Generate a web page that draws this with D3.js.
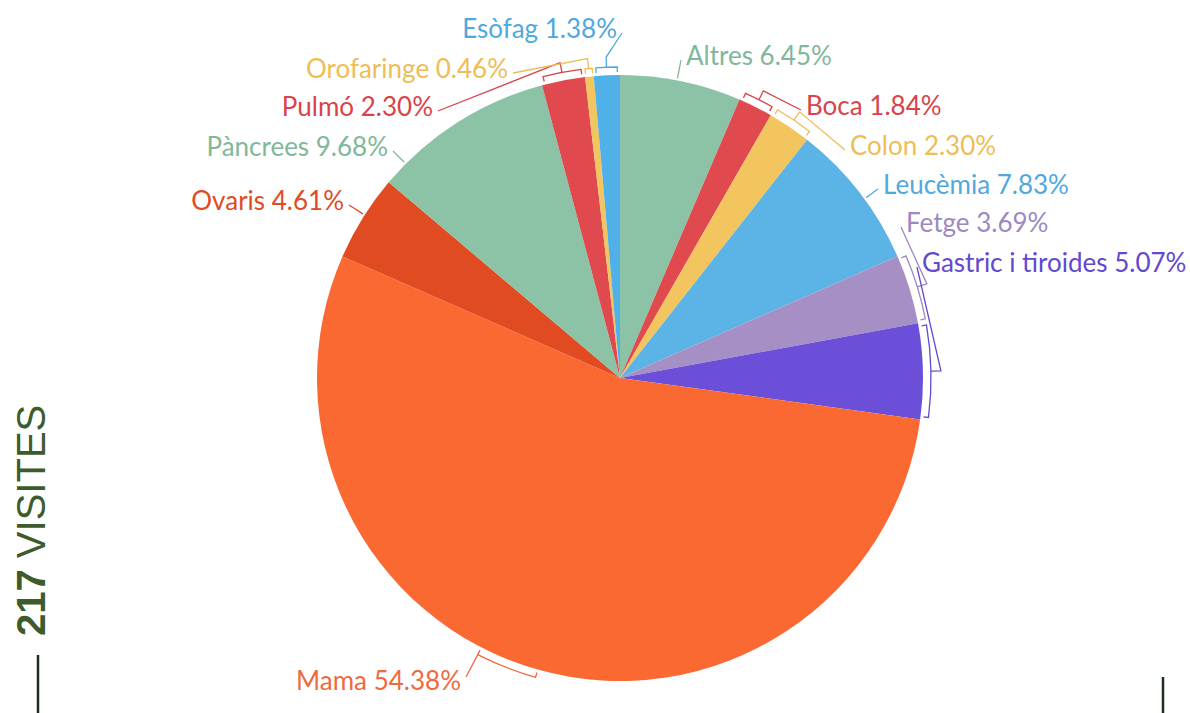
<!DOCTYPE html>
<html><head><meta charset="utf-8">
<script src="https://cdn.jsdelivr.net/npm/d3@7"></script>
<style>body{margin:0;background:#fff}svg{display:block}</style>
</head><body>
<svg id="c" width="1190" height="713"></svg>
<script>
const categories = ["Altres","Boca","Colon","Leucèmia","Fetge","Gastric i tiroides","Mama","Ovaris","Pàncrees","Pulmó","Orofaringe","Esòfag"];
const values = [6.45,1.84,2.30,7.83,3.69,5.07,54.38,4.61,9.68,2.30,0.46,1.38];
const colors = ["#8cc2a5","#e04a4e","#f2c55f","#5cb4e6","#a68fc5","#6b4fd9","#fb6932","#e04b22","#8cc2a5","#e04a4e","#f2c55f","#4fb1e7"];
const textColors = ["#80b899","#d9434a","#eebd55","#4fa9dd","#9d89bf","#6348d0","#ef6a3c","#e04b22","#80b899","#d9434a","#eebd55","#4fa9dd"];
// label layout (layout only): text side, position, bracket flag
const labelLayout = [
  {side:"start", x:686, y:55,  bracket:false},
  {side:"start", x:806, y:105, bracket:true},
  {side:"start", x:850, y:145, bracket:true},
  {side:"start", x:883, y:184, bracket:false},
  {side:"start", x:906, y:222, bracket:true},
  {side:"start", x:922, y:262, bracket:true},
  {side:"end",   x:461, y:680, bracket:true},
  {side:"end",   x:344, y:200, bracket:false},
  {side:"end",   x:388, y:146, bracket:false},
  {side:"end",   x:433, y:106, bracket:true},
  {side:"end",   x:508, y:68,  bracket:true},
  {side:"end",   x:617, y:28,  bracket:true}
];

const svg = d3.select("#c");
const cx = 620, cy = 378, R = 303;
const pie = d3.pie().sort(null).value(d => d)(values);
const arc = d3.arc().innerRadius(0).outerRadius(R);
const g = svg.append("g").attr("transform", `translate(${cx},${cy})`);
g.selectAll("path.slice").data(pie).join("path")
  .attr("class","slice").attr("d", arc).attr("fill",(d,i)=>colors[i]);

const pt = (a, r) => [Math.sin(a)*r, -Math.cos(a)*r];
const lab = svg.append("g");
pie.forEach((d,i) => {
  const L = labelLayout[i];
  const col = textColors[i];
  const tx = L.x - cx + (L.side === "start" ? -5 : 5), ty = L.y - cy + 5;
  const span = d.endAngle - d.startAngle;
  let pts;
  if (L.bracket) {
    let a0 = d.startAngle, a1 = d.endAngle;
    const big = span > 0.35;
    if (big) { const m = (a0+a1)/2; a0 = m; a1 = m + 0.2; }
    else { a0 += Math.min(0.01, span*0.1); a1 -= Math.min(0.01, span*0.1); }
    const rb = R + 8, rt = R + 3;
    const p0 = pt(a0, rt), p1 = pt(a0, rb), p3 = pt(a1, rt);
    const bracket = d3.path();
    bracket.moveTo(p0[0],p0[1]); bracket.lineTo(p1[0],p1[1]);
    bracket.arc(0,0,rb,a0-Math.PI/2,a1-Math.PI/2,false);
    bracket.lineTo(p3[0],p3[1]);
    g.append("path").attr("d", bracket.toString()).attr("fill","none")
      .attr("stroke", col).attr("stroke-width",1.3);
    if (big) {
      pts = [pt(a1, rb), [tx, ty - 8]];
    } else {
      const am = (a0+a1)/2;
      pts = [pt(am, rb), pt(am, rb + 10), [tx, ty]];
    }
  } else {
    let la = Math.atan2(tx, -ty);
    if (la < 0) la += 2*Math.PI;
    const am = Math.max(d.startAngle + 0.03, Math.min(d.endAngle - 0.03, la));
    pts = [pt(am, R + 2), pt(am, R + 12), [tx, ty]];
  }
  g.append("polyline")
    .attr("points", pts.map(p => p.join(",")).join(" "))
    .attr("fill","none").attr("stroke", col).attr("stroke-width",1.3);
  lab.append("text").attr("x", L.x).attr("y", L.y)
    .attr("text-anchor", L.side).attr("dominant-baseline","central")
    .attr("font-family","Lato, 'Open Sans', sans-serif").attr("font-size",26)
    .attr("fill", col).text(`${categories[i]} ${values[i].toFixed(2)}%`);
});

// side annotation
const side = svg.append("text").attr("transform","translate(45,636) rotate(-90)")
  .attr("font-family","'Liberation Sans', Arial, sans-serif").attr("font-size",40).attr("fill","#3e5b2b");
side.append("tspan").attr("font-weight","bold").text("217");
side.append("tspan").text(" VISITES");
svg.append("line").attr("x1",38).attr("x2",38).attr("y1",655).attr("y2",713).attr("stroke","#1d2e1f").attr("stroke-width",2.5);
svg.append("line").attr("x1",1163).attr("x2",1163).attr("y1",677).attr("y2",713).attr("stroke","#1d2e1f").attr("stroke-width",2.5);
</script>
</body></html>
